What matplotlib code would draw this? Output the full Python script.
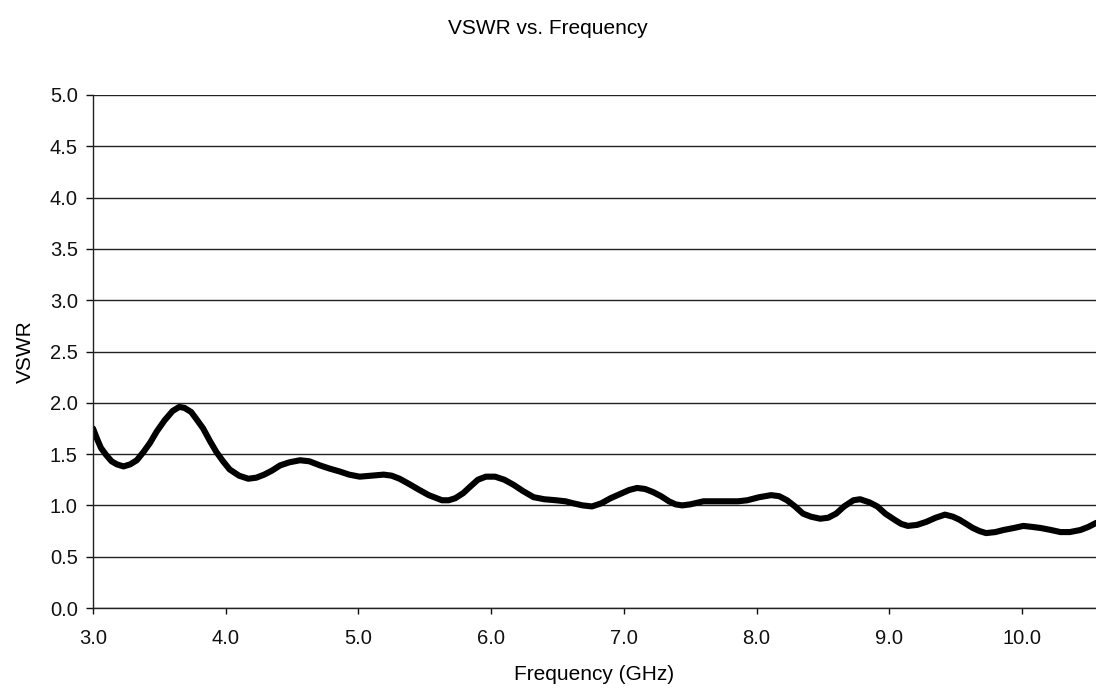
import matplotlib
matplotlib.use("Agg")
import matplotlib.pyplot as plt

plt.rcParams['font.family'] = ['Liberation Sans', 'DejaVu Sans']

# frequency (GHz) and VSWR
freq = [3.00, 3.03, 3.06, 3.10, 3.14, 3.18, 3.23, 3.28, 3.33, 3.38,
        3.43, 3.48, 3.54, 3.60, 3.65, 3.69, 3.74, 3.78, 3.83, 3.88,
        3.93, 3.98, 4.03, 4.10, 4.17, 4.23, 4.29, 4.35, 4.41, 4.48,
        4.56, 4.63, 4.71, 4.78, 4.86, 4.93, 5.01, 5.10, 5.19, 5.25,
        5.31, 5.38, 5.46, 5.53, 5.59, 5.63, 5.68, 5.73, 5.79, 5.84,
        5.90, 5.96, 6.03, 6.10, 6.17, 6.24, 6.32, 6.40, 6.49, 6.56,
        6.62, 6.69, 6.76, 6.83, 6.90, 6.97, 7.04, 7.10, 7.16, 7.22,
        7.28, 7.34, 7.39, 7.44, 7.50, 7.60, 7.69, 7.78, 7.86, 7.93,
        8.02, 8.11, 8.17, 8.23, 8.29, 8.35, 8.41, 8.48, 8.54, 8.60,
        8.66, 8.73, 8.78, 8.85, 8.91, 8.97, 9.04, 9.09, 9.14, 9.21,
        9.28, 9.35, 9.42, 9.48, 9.53, 9.58, 9.63, 9.68, 9.73, 9.80,
        9.86, 9.94, 10.01, 10.08, 10.14, 10.22, 10.29, 10.36, 10.44, 10.50,
        10.56]
vswr = [1.75, 1.65, 1.56, 1.49, 1.43, 1.40, 1.38, 1.40, 1.44, 1.52,
        1.61, 1.72, 1.83, 1.92, 1.96, 1.95, 1.91, 1.84, 1.75, 1.63,
        1.52, 1.43, 1.35, 1.29, 1.26, 1.27, 1.30, 1.34, 1.39, 1.42,
        1.44, 1.43, 1.39, 1.36, 1.33, 1.30, 1.28, 1.29, 1.30, 1.29,
        1.26, 1.21, 1.15, 1.10, 1.07, 1.05, 1.05, 1.07, 1.12, 1.18,
        1.25, 1.28, 1.28, 1.25, 1.20, 1.14, 1.08, 1.06, 1.05, 1.04,
        1.02, 1.00, 0.99, 1.02, 1.07, 1.11, 1.15, 1.17, 1.16, 1.13,
        1.09, 1.04, 1.01, 1.00, 1.01, 1.04, 1.04, 1.04, 1.04, 1.05,
        1.08, 1.10, 1.09, 1.05, 0.99, 0.92, 0.89, 0.87, 0.88, 0.92,
        0.99, 1.05, 1.06, 1.03, 0.99, 0.92, 0.86, 0.82, 0.80, 0.81,
        0.84, 0.88, 0.91, 0.89, 0.86, 0.82, 0.78, 0.75, 0.73, 0.74,
        0.76, 0.78, 0.80, 0.79, 0.78, 0.76, 0.74, 0.74, 0.76, 0.79,
        0.83]

x_ticks = [3.0, 4.0, 5.0, 6.0, 7.0, 8.0, 9.0, 10.0]
y_ticks = [0.0, 0.5, 1.0, 1.5, 2.0, 2.5, 3.0, 3.5, 4.0, 4.5, 5.0]

fig = plt.figure(figsize=(10.96, 6.94), dpi=100)
ax = fig.add_axes([93 / 1096, 1 - 608 / 694, 1 - 93 / 1096, (608 - 95) / 694])

ax.plot(freq, vswr, color='black', lw=4.4, solid_capstyle='round', solid_joinstyle='round')

ax.set_xlim(3.0, 10.558)
ax.set_ylim(0, 5.0)
ax.set_xticks(x_ticks)
ax.set_xticklabels([f"{t:.1f}" for t in x_ticks])
ax.set_yticks(y_ticks)
ax.set_yticklabels([f"{t:.1f}" for t in y_ticks])

ax.yaxis.grid(True, color='#222222', lw=1.0)
ax.set_axisbelow(True)
for s in ['top', 'right']:
    ax.spines[s].set_visible(False)
for s in ['left', 'bottom']:
    ax.spines[s].set_color('#222222')
    ax.spines[s].set_linewidth(1.0)

ax.tick_params(axis='x', direction='out', length=4, width=1, pad=11, labelsize=14.5, colors='#111111')
ax.tick_params(axis='y', direction='out', length=5, width=1, pad=6, labelsize=14.5, colors='#111111')

ax.set_xlabel('Frequency (GHz)', fontsize=15, labelpad=12)
ax.set_ylabel('VSWR', fontsize=15, labelpad=11)
fig.text(0.5, 1 - 28 / 694, 'VSWR vs. Frequency', ha='center', va='center', fontsize=15)

fig.savefig('out.png', dpi=100)
